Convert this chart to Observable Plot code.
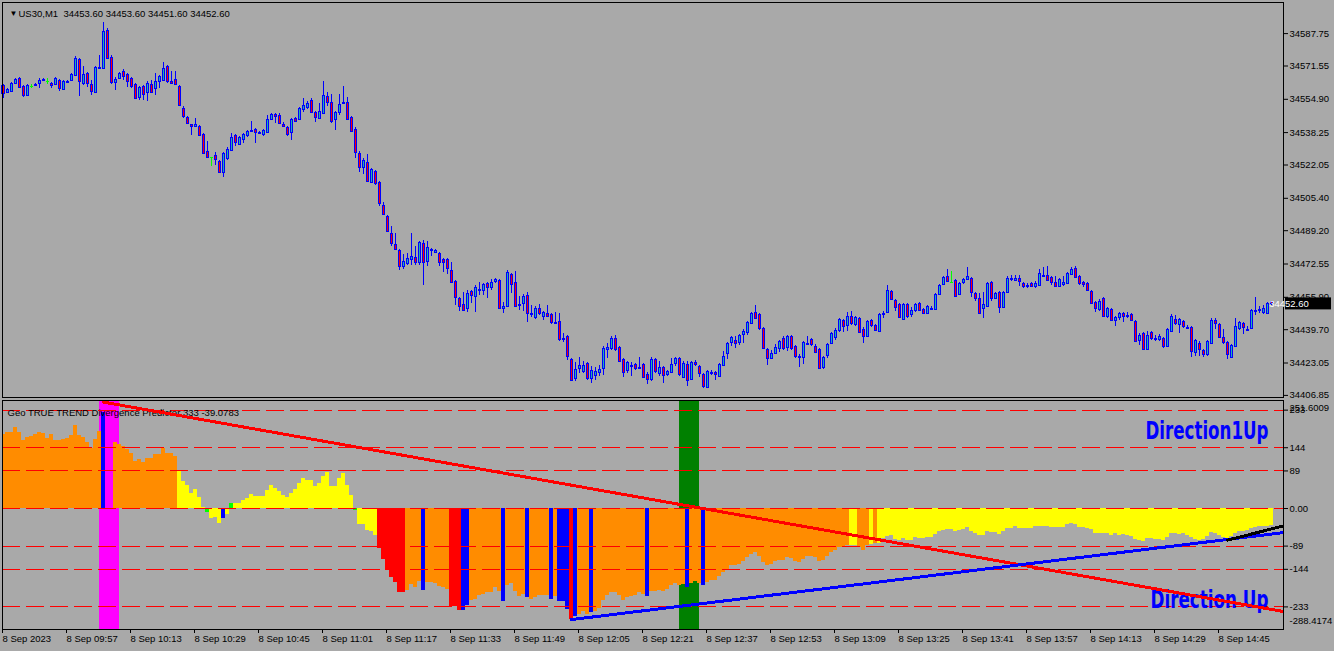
<!DOCTYPE html>
<html><head><meta charset="utf-8">
<script src="https://cdn.jsdelivr.net/npm/d3@7"></script>
<script src="https://cdn.jsdelivr.net/npm/@observablehq/plot@0.6"></script>
<style>
html,body{margin:0;padding:0;background:#a9a9a9;}
#chart{position:relative;width:1334px;height:651px;background:#a9a9a9;overflow:hidden;}
#chart svg{position:absolute;left:0;top:0;}
</style></head><body><div id="chart"></div>
<script>
// ---------------- DATA ----------------
const symbolName = "US30,M1";
const opens = [
34561.8,34558.3,34558.8,34562.8,34565.3,34561.3,34556.8,34561.3,34561.8,34562.8,
34564.3,34563.8,34562.8,34562.3,34564.3,34559.8,34563.3,34564.3,34566.8,34574.8,
34562.8,34567.8,34562.3,34558.3,34570.3,34570.3,34589.3,34575.8,34563.3,34565.3,
34568.8,34567.3,34565.3,34562.3,34555.8,34561.3,34558.3,34562.3,34560.3,34563.8,
34564.3,34571.3,34563.8,34564.8,34561.3,34550.3,34545.8,34542.3,34541.3,34541.3,
34537.3,34528.8,34525.8,34526.8,34523.8,34518.3,34525.3,34529.3,34536.8,34532.3,
34534.8,34536.8,34538.8,34539.8,34537.8,34537.3,34538.3,34544.8,34547.3,34546.8,
34542.3,34540.8,34538.3,34545.3,34544.8,34549.8,34550.8,34554.3,34548.3,34545.3,
34547.8,34556.3,34553.3,34544.8,34548.3,34552.8,34553.3,34545.8,34539.8,34527.8,
34520.8,34523.3,34513.3,34518.8,34513.3,34501.8,34496.3,34487.8,34482.3,34479.3,
34471.3,34472.8,34474.8,34475.8,34473.3,34482.8,34473.8,34479.3,34478.3,34477.8,
34474.8,34474.8,34469.3,34463.8,34455.3,34452.3,34450.3,34458.8,34456.3,34459.3,
34459.3,34462.8,34460.8,34463.8,34464.3,34450.3,34451.3,34467.3,34463.3,34451.8,
34452.8,34456.8,34447.3,34445.8,34450.3,34446.3,34447.8,34447.3,34442.8,34443.8,
34434.8,34436.3,34424.8,34415.3,34420.3,34418.8,34422.8,34415.3,34416.8,34418.3,
34420.3,34429.8,34430.3,34435.3,34430.8,34424.8,34419.3,34421.3,34422.3,34420.3,
34422.3,34417.3,34414.8,34424.8,34417.8,34420.8,34417.3,34418.3,34422.8,34425.3,
34415.8,34422.3,34414.8,34423.3,34421.3,34417.3,34410.8,34417.8,34418.3,34416.3,
34421.8,34427.8,34433.3,34434.3,34433.3,34437.3,34438.3,34442.8,34448.3,34447.3,
34440.3,34429.8,34425.3,34427.8,34430.3,34435.3,34430.8,34436.3,34431.3,34425.8,
34425.8,34432.3,34434.8,34431.3,34429.8,34420.8,34426.8,34432.8,34435.8,34439.3,
34444.3,34441.8,34446.3,34442.3,34445.3,34439.8,34436.3,34444.3,34441.8,34438.8,
34447.3,34448.3,34458.8,34454.3,34452.3,34444.8,34452.3,34447.3,34449.3,34452.8,
34449.8,34447.8,34449.8,34449.8,34457.3,34462.3,34466.3,34463.3,34464.3,34457.3,
34463.3,34464.8,34465.3,34457.8,34455.3,34450.3,34451.3,34463.3,34455.3,34458.3,
34450.8,34458.3,34464.8,34464.3,34465.3,34462.8,34461.3,34462.8,34461.3,34461.8,
34466.3,34466.8,34465.8,34463.3,34461.3,34462.3,34462.8,34467.3,34470.3,34466.3,
34463.3,34462.8,34458.8,34453.3,34449.8,34455.3,34446.3,34449.8,34444.3,34445.8,
34447.8,34446.3,34447.3,34443.8,34434.3,34437.8,34429.8,34438.3,34434.8,34434.8,
34435.3,34431.3,34438.8,34444.8,34442.3,34443.8,34440.3,34440.8,34428.3,34432.8,
34429.3,34427.3,34432.8,34444.3,34442.3,34435.8,34433.3,34425.8,34431.3,34440.3,
34442.8,34439.3,34440.3,34448.8,34449.3,34448.3,34447.8,34453.6];
const highs = [
34562.3,34560.3,34563.3,34565.3,34565.8,34561.8,34562.3,34562.3,34562.8,34565.3,
34565.3,34565.3,34563.3,34565.8,34564.8,34564.3,34564.3,34567.8,34576.3,34575.3,
34571.3,34568.3,34564.3,34571.3,34576.8,34593.3,34590.3,34576.8,34565.8,34568.3,
34569.8,34567.8,34565.8,34562.8,34561.3,34561.8,34563.8,34564.3,34567.8,34566.8,
34573.3,34571.8,34568.8,34568.8,34561.8,34551.3,34546.3,34542.3,34545.3,34541.8,
34537.8,34533.8,34525.8,34528.3,34524.3,34528.3,34530.8,34537.8,34537.3,34536.3,
34537.8,34539.3,34543.8,34540.3,34538.8,34539.8,34546.8,34547.8,34547.8,34547.8,
34543.3,34541.3,34545.3,34545.8,34550.8,34555.3,34553.8,34555.3,34548.8,34552.8,
34563.8,34558.3,34557.3,34548.8,34557.3,34561.3,34555.8,34546.3,34540.8,34528.8,
34525.3,34527.3,34520.3,34519.3,34513.8,34503.3,34496.8,34491.3,34487.8,34479.8,
34477.3,34477.8,34487.8,34481.3,34483.8,34484.3,34483.8,34480.3,34479.8,34478.3,
34475.3,34475.3,34473.3,34464.3,34455.8,34458.3,34459.3,34459.3,34461.8,34463.3,
34462.8,34463.3,34464.8,34465.3,34464.8,34453.3,34469.3,34467.8,34468.8,34456.3,
34457.3,34458.3,34451.8,34451.3,34452.3,34448.8,34451.8,34447.8,34448.3,34447.8,
34437.8,34436.8,34425.3,34423.3,34425.8,34423.8,34423.3,34421.3,34420.8,34421.8,
34431.3,34432.8,34436.3,34436.8,34431.3,34425.3,34423.8,34423.3,34422.8,34425.8,
34422.8,34418.3,34425.8,34425.3,34423.8,34421.3,34419.3,34425.3,34425.8,34425.8,
34423.8,34423.8,34423.8,34424.3,34421.8,34417.8,34419.3,34419.3,34418.8,34422.8,
34428.8,34433.3,34436.3,34436.3,34437.3,34439.8,34443.8,34448.3,34451.8,34447.8,
34440.8,34430.3,34429.3,34432.3,34434.3,34436.3,34436.8,34436.8,34431.8,34427.3,
34433.8,34436.3,34435.3,34432.3,34430.3,34426.3,34432.8,34438.3,34440.3,34445.3,
34444.8,34448.3,34448.8,34446.3,34445.8,34440.8,34444.3,34444.8,34442.3,34447.8,
34448.8,34461.8,34459.3,34454.8,34452.8,34452.8,34452.8,34450.8,34452.8,34453.3,
34450.3,34451.8,34451.3,34457.8,34462.3,34466.3,34469.8,34468.8,34464.8,34463.3,
34465.3,34470.8,34465.8,34458.3,34457.8,34458.3,34463.3,34463.8,34458.3,34458.8,
34458.8,34466.3,34466.8,34466.8,34466.8,34463.3,34462.8,34463.3,34463.8,34469.8,
34470.8,34471.3,34466.3,34466.3,34465.3,34466.3,34468.3,34470.8,34471.3,34466.8,
34463.8,34463.3,34459.3,34453.8,34454.8,34455.8,34450.8,34450.3,34446.3,34448.3,
34448.3,34448.3,34447.8,34444.3,34437.8,34438.3,34438.8,34438.8,34436.8,34437.3,
34435.8,34440.3,34447.3,34446.8,34445.3,34444.3,34441.8,34441.3,34434.8,34433.8,
34429.8,34434.3,34445.3,34445.3,34442.8,34439.8,34433.8,34432.3,34445.3,34443.8,
34443.3,34441.3,34449.8,34455.8,34451.3,34451.8,34453.3,34453.6];
const lows = [
34555.3,34557.8,34558.3,34562.3,34560.3,34555.8,34556.3,34560.3,34561.3,34560.3,
34563.8,34562.3,34560.3,34561.8,34558.8,34559.3,34562.8,34563.8,34566.3,34556.3,
34561.8,34560.8,34556.8,34557.8,34569.8,34569.8,34574.8,34562.3,34559.3,34564.8,
34564.3,34560.8,34560.3,34554.8,34554.3,34554.3,34553.8,34557.8,34556.8,34560.3,
34563.8,34562.8,34562.3,34561.8,34551.3,34545.3,34542.3,34536.8,34540.8,34536.3,
34527.3,34525.3,34521.3,34521.8,34517.8,34515.8,34524.3,34528.8,34531.3,34531.8,
34532.8,34535.8,34538.8,34532.8,34537.3,34536.3,34537.8,34544.3,34542.8,34542.3,
34540.8,34536.3,34534.3,34543.3,34544.3,34548.3,34549.8,34547.8,34543.3,34544.8,
34547.3,34551.3,34542.8,34539.3,34546.8,34552.8,34544.3,34538.3,34525.3,34518.3,
34517.3,34513.3,34512.8,34511.8,34501.3,34496.8,34488.3,34481.3,34479.3,34469.3,
34469.8,34471.8,34471.8,34471.8,34471.8,34461.8,34471.3,34476.3,34477.8,34471.3,
34468.3,34467.3,34462.8,34451.8,34448.8,34448.8,34448.3,34452.8,34448.3,34456.8,
34456.8,34455.3,34459.3,34462.8,34449.8,34447.8,34450.8,34457.8,34450.8,34449.3,
34448.8,34443.3,34445.8,34444.8,34446.8,34444.3,34445.8,34442.3,34442.3,34433.8,
34433.3,34424.3,34413.8,34413.8,34417.8,34417.8,34414.3,34412.8,34414.3,34416.3,
34416.8,34425.3,34429.3,34428.8,34423.3,34415.8,34417.8,34416.3,34419.3,34420.3,
34415.3,34412.3,34413.8,34417.8,34416.3,34412.8,34416.3,34417.8,34421.3,34416.3,
34415.3,34411.3,34414.3,34421.3,34415.8,34410.3,34410.3,34416.8,34414.3,34415.8,
34421.3,34424.8,34431.3,34430.3,34431.8,34432.8,34436.8,34442.3,34444.8,34439.3,
34429.8,34421.8,34424.8,34427.3,34428.3,34429.3,34428.8,34429.3,34425.3,34420.8,
34422.3,34431.8,34431.3,34427.8,34419.8,34419.8,34425.3,34432.3,34434.3,34438.3,
34438.3,34438.8,34441.8,34441.3,34437.8,34432.8,34435.8,34440.8,34438.8,34438.3,
34445.3,34447.8,34454.3,34448.8,34445.3,34444.3,34445.3,34445.8,34448.3,34448.8,
34447.3,34447.3,34449.3,34449.3,34456.8,34461.8,34463.3,34462.8,34455.8,34456.8,
34462.3,34464.3,34455.8,34453.8,34447.3,34445.3,34450.8,34453.8,34454.8,34447.8,
34450.3,34457.8,34463.8,34463.8,34461.3,34460.3,34460.3,34460.8,34460.3,34461.3,
34465.8,34463.8,34461.8,34460.8,34460.8,34461.3,34462.3,34466.8,34465.3,34461.8,
34460.8,34458.8,34452.3,34448.3,34448.8,34445.8,34445.3,34443.8,34441.3,34444.3,
34443.3,34445.3,34443.8,34433.3,34431.8,34429.3,34429.3,34434.3,34433.8,34433.8,
34430.3,34430.8,34438.3,34441.8,34437.8,34440.3,34439.8,34425.8,34426.3,34426.3,
34425.8,34426.3,34432.3,34439.8,34435.3,34432.3,34424.8,34425.3,34430.8,34439.3,
34437.3,34439.3,34439.8,34446.8,34447.8,34447.3,34447.3,34451.6];
const closes = [
34557.8,34559.8,34562.8,34564.8,34560.8,34556.8,34561.8,34561.3,34562.3,34564.3,
34564.8,34563.8,34561.8,34565.3,34560.3,34563.8,34563.8,34567.3,34575.3,34563.8,
34567.3,34562.8,34558.8,34570.8,34570.8,34588.8,34575.3,34563.3,34564.8,34567.8,
34566.3,34563.8,34561.3,34555.3,34560.8,34557.3,34562.8,34558.3,34563.8,34566.3,
34570.3,34563.8,34562.8,34562.3,34551.8,34546.3,34542.8,34541.3,34542.3,34536.8,
34527.8,34525.8,34525.8,34524.8,34518.3,34527.8,34529.8,34535.8,34533.3,34535.8,
34537.3,34538.8,34539.3,34538.3,34538.3,34539.3,34544.8,34547.3,34546.3,34542.8,
34541.3,34537.3,34544.8,34543.8,34550.3,34551.8,34552.8,34548.3,34545.8,34548.8,
34556.8,34553.3,34543.8,34548.3,34552.3,34553.3,34544.8,34538.8,34528.3,34520.8,
34524.3,34513.8,34519.8,34512.8,34502.8,34497.3,34488.8,34482.8,34479.8,34471.3,
34473.8,34475.3,34476.3,34473.3,34483.3,34473.3,34480.8,34479.8,34479.3,34473.3,
34473.3,34470.3,34463.3,34455.8,34451.3,34449.3,34457.8,34456.8,34460.8,34459.8,
34462.3,34460.8,34463.3,34464.8,34450.3,34451.3,34468.3,34462.3,34451.3,34452.3,
34456.3,34447.8,34447.8,34450.3,34447.8,34448.3,34446.3,34443.3,34443.3,34434.8,
34435.3,34426.3,34414.3,34419.8,34421.8,34421.8,34415.3,34419.3,34418.8,34419.8,
34430.3,34430.8,34435.3,34429.8,34423.8,34418.3,34423.3,34421.8,34420.3,34420.8,
34415.8,34414.8,34424.8,34418.8,34420.8,34416.8,34418.8,34422.3,34425.3,34417.3,
34422.8,34414.3,34423.3,34422.3,34417.8,34411.3,34418.8,34418.3,34417.3,34422.3,
34426.3,34432.8,34435.8,34432.8,34436.8,34438.8,34443.3,34447.8,34445.3,34440.3,
34430.3,34425.3,34427.8,34430.8,34433.8,34430.3,34436.3,34430.3,34426.3,34426.3,
34433.3,34432.8,34432.3,34428.3,34420.3,34425.8,34432.3,34437.8,34439.3,34444.8,
34441.3,34446.3,34442.8,34445.8,34438.3,34436.3,34443.8,34441.8,34439.3,34447.3,
34447.8,34459.3,34454.8,34450.8,34445.8,34452.3,34446.3,34449.3,34452.3,34449.3,
34447.8,34451.3,34450.3,34457.3,34461.8,34465.8,34463.8,34463.3,34456.3,34462.8,
34464.8,34466.3,34458.3,34455.3,34447.8,34452.3,34462.8,34455.3,34457.8,34450.8,
34458.3,34465.3,34465.3,34465.3,34463.8,34461.3,34461.8,34461.3,34462.8,34467.8,
34466.8,34464.3,34463.3,34461.3,34464.8,34463.3,34467.8,34469.8,34465.8,34462.8,
34462.3,34459.3,34452.8,34450.3,34453.8,34446.3,34450.3,34444.3,34445.8,34447.8,
34446.3,34446.8,34444.3,34433.8,34436.8,34429.8,34436.8,34435.3,34435.3,34436.3,
34431.3,34439.8,34446.3,34442.8,34444.8,34441.3,34440.8,34428.8,34434.3,34429.8,
34427.3,34433.8,34444.3,34442.8,34435.8,34433.3,34427.3,34431.8,34441.3,34443.3,
34440.8,34439.8,34449.3,34449.3,34449.8,34450.3,34452.8,34452.6];
const priceTicks = [34587.75,34571.55,34554.90,34538.25,34522.05,34505.40,34489.20,34472.55,34455.90,34439.70,34423.05,34406.85];

const indicatorName = "Geo TRUE TREND Divergence Predictor 333";
const histValues = [
175,179,181,193,181,161,169,171,175,179,
177,167,175,160,161,163,167,173,197,173,
169,156,141,164,183,228,null,null,156,151,
148,140,130,112,116,110,118,118,127,127,
143,131,131,123,88,64,55,36,44,27,
3,-10,-23,-21,-36,-23,-14,13,13,11,
19,24,33,28,28,28,43,55,48,41,
31,27,35,44,60,70,66,66,51,60,
76,85,52,52,70,82,55,31,-5,-39,
-39,-53,-55,-65,-95,-120,-146,-164,-175,-200,
-200,-193,-179,-188,-172,-193,-175,-175,-178,-184,
-188,-191,-231,-231,-242,-241,-229,-219,-215,-207,
-204,-200,-200,-188,-196,-221,-183,-178,-197,-209,
-203,-211,-215,-211,-205,-207,-207,-215,-209,-221,
-221,-239,-263,-256,-251,-245,-250,-246,-245,-237,
-219,-207,-199,-199,-207,-217,-211,-209,-207,-199,
-203,-209,-196,-196,-193,-197,-191,-183,-178,-182,
-180,-186,-178,-172,-178,-183,-175,-170,-170,-161,
-152,-146,-134,-136,-132,-126,-117,-110,-105,-113,
-129,-136,-132,-126,-122,-124,-117,-118,-126,-129,
-120,-113,-114,-117,-126,-124,-113,-104,-100,-93,
-93,-88,-88,-88,-93,-99,-88,-85,-83,-83,
-71,-67,-65,-73,-75,-71,-75,-75,-69,-71,
-71,-69,-69,-62,-55,-51,-49,-49,-55,-53,
-50,-46,-54,-59,-65,-65,-54,-57,-57,-61,
-55,-47,-47,-43,-47,-47,-48,-47,-43,-42,
-43,-43,-45,-45,-45,-45,-39,-36,-38,-45,
-45,-47,-50,-58,-58,-59,-59,-63,-58,-63,
-62,-65,-67,-73,-75,-77,-71,-71,-73,-73,
-75,-69,-58,-59,-61,-59,-65,-69,-73,-75,
-73,-67,-57,-59,-65,-69,-75,-67,-58,-55,
-54,-53,-47,-46,-43,-42,-42,-39.0783];
// state of each histogram bar (O strong, Y weak, R extreme, B divergence, G turn), as runs
const histStateRuns = [["O",25],["B",1],["O",18],["Y",7],["G",1],["Y",3],["B",1],["Y",1],["G",1],["Y",30],
["G",1],["Y",5],["R",7],["O",4],["B",1],["O",6],["R",3],["B",2],["O",8],["B",1],["O",5],["B",1],["O",5],
["B",1],["O",1],["B",3],["R",1],["B",1],["O",3],["B",1],["O",13],["B",1],["O",9],["B",1],["O",3],["B",1],
["O",36],["Y",2],["O",3],["Y",1],["O",1],["Y",99]];
const indicatorMax = 251.6009, indicatorMin = -288.4174;
const indicatorLevels = [233,144,89,0,-89,-144,-233];
const bandStart = [24,169], bandEnd = [29,174], bandKind = ["signal","confirm"];
const redTrendBars = [25,320], redTrendValues = [252,-244];
const blueTrendBars = [142,320], blueTrendValues = [-263,-57];
const blackTrendBars = [306,320], blackTrendValues = [-75,-41];
const directionLabels = ["Direction1Up","Direction Up"];
const xTickBars = [0,16,32,48,64,80,96,112,128,144,160,176,192,208,224,240,256,272,288,304];
const xTickLabels = ["8 Sep 2023","8 Sep 09:57","8 Sep 10:13","8 Sep 10:29","8 Sep 10:45","8 Sep 11:01","8 Sep 11:17","8 Sep 11:33","8 Sep 11:49","8 Sep 12:05","8 Sep 12:21","8 Sep 12:37","8 Sep 12:53","8 Sep 13:09","8 Sep 13:25","8 Sep 13:41","8 Sep 13:57","8 Sep 14:13","8 Sep 14:29","8 Sep 14:45"];

// ---------------- BUILD ----------------
const BLUE = "#0000ff", LIME = "#00ff00", BULL = "#20b2aa", BEAR = "#ff0000";
const stateColor = {O: "#ff8c00", Y: "#ffff00", R: "#ff0000", B: "#0000ff", G: "#00ff00"};
const bandColor = {signal: "#ff00ff", confirm: "#008000"};
const FONT = "'Liberation Sans', Arial, sans-serif";
const svgStyle = `background: transparent; overflow: visible; font-family: ${FONT}; font-size: 9.5px; color: #000;`;

const candles = closes.map((c, i) => ({i, open: opens[i], high: highs[i], low: lows[i], close: c}));
const isDoji = d => d.open === d.close;
const histState = histStateRuns.flatMap(([s, n]) => Array(n).fill(s));
const hist = histValues.map((v, i) => ({i, v, s: histState[i]})).filter(d => d.v != null);
const bands = bandStart.map((s, k) => ({start: s, end: bandEnd[k], kind: bandKind[k]}));
const toLine = (bars, vals) => bars.map((b, k) => ({i: b, v: vals[k]}));
const labelByBar = new Map(xTickBars.map((b, k) => [b, xTickLabels[k]]));
const last = candles[candles.length - 1];
const lastHist = histValues[histValues.length - 1];

const xScale = {domain: [0, 320], range: [3, 1283]};

const p1 = Plot.plot({
  width: 1334, height: 400,
  marginLeft: 2, marginRight: 51, marginTop: 2, marginBottom: 3,
  style: svgStyle,
  x: {...xScale, axis: null},
  y: {domain: [34404.3, 34604.3], range: [400, 0]},
  color: {type: "identity"},
  marks: [
    Plot.ruleX(candles, {x: "i", y1: "low", y2: "high", stroke: d => isDoji(d) ? LIME : BLUE, strokeWidth: 1, shapeRendering: "crispEdges"}),
    Plot.rect(candles.filter(d => !isDoji(d)), {
      x1: d => d.i - 0.25, x2: d => d.i + 0.25, y1: "open", y2: "close",
      fill: d => d.close > d.open ? BULL : BEAR, stroke: BLUE, strokeWidth: 1, shapeRendering: "crispEdges"
    }),
    Plot.ruleY(candles.filter(isDoji), {y: "close", x1: d => d.i - 0.375, x2: d => d.i + 0.375, stroke: LIME, shapeRendering: "crispEdges"}),
    Plot.axisY({anchor: "right", ticks: priceTicks, tickFormat: d => d.toFixed(2), tickSize: 4, tickPadding: 2, label: null}),
    Plot.text(["\u25BC"], {frameAnchor: "top-left", dx: 7, dy: 8, fontSize: 8, fill: "#000"}),
    Plot.text([`${symbolName}  ${last.open.toFixed(2)} ${last.high.toFixed(2)} ${last.low.toFixed(2)} ${last.close.toFixed(2)}`],
      {frameAnchor: "top-left", dx: 16, dy: 8, textAnchor: "start", fill: "#000"}),
    Plot.frame({stroke: "#000"})
  ]
});

const dirStyle = {fill: BLUE, fontSize: 24.5, fontWeight: "bold", fontFamily: "'Liberation Sans Narrow', 'DejaVu Sans Condensed', " + FONT, textAnchor: "end", lineAnchor: "top", frameAnchor: "top-right"};

const p2 = Plot.plot({
  width: 1334, height: 651,
  marginLeft: 2, marginRight: 51, marginTop: 400, marginBottom: 22,
  style: svgStyle,
  x: xScale,
  y: {domain: [indicatorMin, indicatorMax], range: [629.8, 401.8]},
  color: {type: "identity"},
  marks: [
    Plot.rect(bands, {x1: "start", x2: "end", fill: d => bandColor[d.kind], shapeRendering: "crispEdges"}),
    Plot.rect(hist, {x1: d => d.i - 0.5, x2: d => d.i + 0.5, y1: () => 0, y2: "v", fill: d => stateColor[d.s], shapeRendering: "crispEdges", clip: true}),
    Plot.ruleY(indicatorLevels, {stroke: "#ff0000", strokeDasharray: "18,6", shapeRendering: "crispEdges"}),
    Plot.text([`${indicatorName} ${lastHist}`], {frameAnchor: "top-left", dx: 5, dy: 9, textAnchor: "start", fill: "#000"}),
    Plot.text([directionLabels[0]], {...dirStyle, dx: -15, dy: 21.5}),
    Plot.text([directionLabels[1]], {...dirStyle, dx: -15, dy: 190}),
    Plot.line(toLine(redTrendBars, redTrendValues), {x: "i", y: "v", stroke: "#ff0000", strokeWidth: 3, clip: true, shapeRendering: "crispEdges"}),
    Plot.line(toLine(blueTrendBars, blueTrendValues), {x: "i", y: "v", stroke: BLUE, strokeWidth: 3, clip: true, shapeRendering: "crispEdges"}),
    Plot.line(toLine(blackTrendBars, blackTrendValues), {x: "i", y: "v", stroke: "#000", strokeWidth: 3, clip: true, shapeRendering: "crispEdges"}),
    Plot.axisY({anchor: "right", ticks: indicatorLevels, tickFormat: d => d === 0 ? "0.00" : String(d), tickSize: 4, tickPadding: 2, label: null}),
    Plot.text([indicatorMax], {y: d => d, frameAnchor: "right", dx: 6, dy: 6, textAnchor: "start", text: d => d.toFixed(4), fill: "#000"}),
    Plot.text([indicatorMin], {y: d => d, frameAnchor: "right", dx: 6, dy: -9, textAnchor: "start", text: d => d.toFixed(4), fill: "#000"}),
    Plot.axisX({anchor: "bottom", ticks: xTickBars, tickFormat: d => labelByBar.get(d), tickSize: 4, tickPadding: 2, textAnchor: "start", dx: -1, label: null}),
    Plot.frame({stroke: "#000"})
  ]
});

const chart = document.getElementById("chart");
chart.append(p1, p2);

// current price tag on the price axis
const yPrice = p1.scale("y").apply(last.close);
const tag = d3.select(p1).append("g");
tag.append("rect").attr("x", 1285).attr("y", yPrice - 6).attr("width", 46).attr("height", 12).attr("fill", "#000");
tag.append("text").attr("x", 1289).attr("y", yPrice).attr("dy", "0.35em").attr("fill", "#fff")
  .attr("font-family", FONT).attr("font-size", 9.5).text(last.close.toFixed(2));

// fit the direction labels to their drawn width
d3.select(p2).selectAll("text").each(function () {
  const t = this.textContent;
  if (t === directionLabels[0]) d3.select(this).attr("textLength", 123).attr("lengthAdjust", "spacingAndGlyphs");
  if (t === directionLabels[1]) d3.select(this).attr("textLength", 118).attr("lengthAdjust", "spacingAndGlyphs");
});
</script></body></html>
